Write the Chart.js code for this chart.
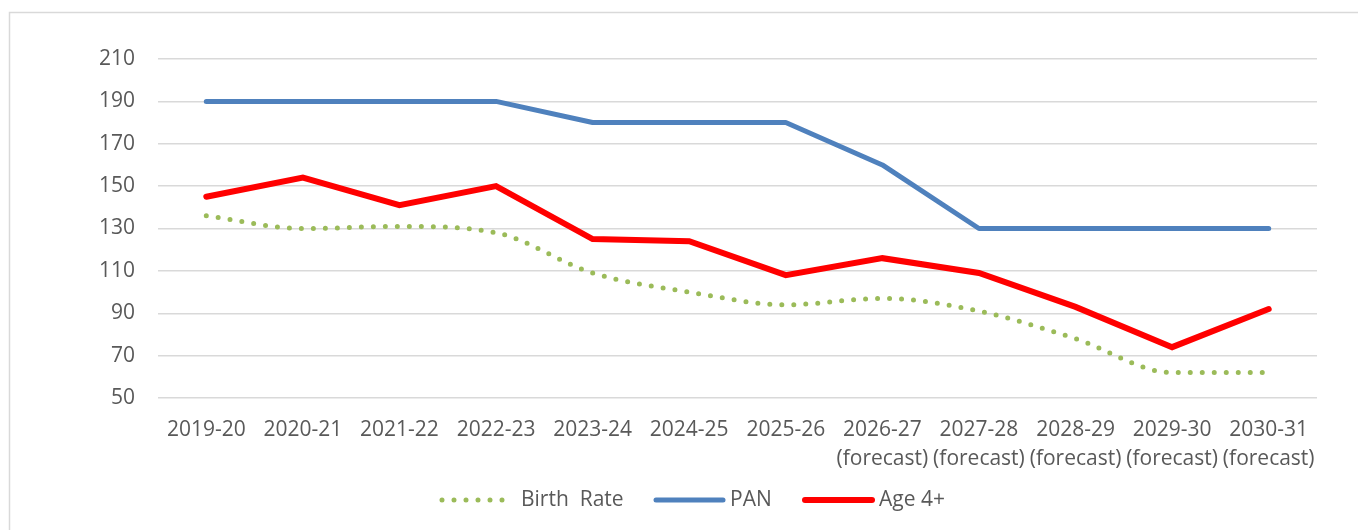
<!DOCTYPE html>
<html>
<head>
<meta charset="utf-8">
<script src="https://cdn.jsdelivr.net/npm/chart.js@4.4.1/dist/chart.umd.min.js"></script>
<style>
  html, body { margin: 0; padding: 0; background: #ffffff; }
  #wrap { width: 1358px; height: 530px; position: relative; }
</style>
</head>
<body>
<div id="wrap"><canvas id="c" width="1358" height="530"></canvas></div>
<script>
const categories = [
  ['2019-20'], ['2020-21'], ['2021-22'], ['2022-23'], ['2023-24'], ['2024-25'], ['2025-26'],
  ['2026-27', '(forecast)'], ['2027-28', '(forecast)'], ['2028-29', '(forecast)'],
  ['2029-30', '(forecast)'], ['2030-31', '(forecast)']
];
const birthRate = [136, 130, 131, 128, 109, 100, 94, 97, 91, 78, 62, 62];
const pan       = [190, 190, 190, 190, 180, 180, 180, 160, 130, 130, 130, 130];
const age4      = [145, 154, 141, 150, 125, 124, 108, 116, 109, 93, 74, 92];
const yTicks = { min: 50, max: 210, step: 20 };
const seriesNames = ['Birth  Rate', 'PAN', 'Age 4+'];

const FONT = "'Open Sans', 'DejaVu Sans', sans-serif";
const TEXT = '#595959';
const GRID = '#d9d9d9';

const framePlugin = {
  id: 'frame',
  beforeDraw(chart) {
    const ctx = chart.ctx;
    ctx.save();
    ctx.strokeStyle = GRID;
    ctx.lineWidth = 1.5;
    ctx.beginPath();
    ctx.moveTo(9.5, 600);
    ctx.lineTo(9.5, 12.5);
    ctx.lineTo(1400, 12.5);
    ctx.stroke();
    ctx.restore();
  }
};

const legendPlugin = {
  id: 'customLegend',
  afterDraw(chart) {
    const ctx = chart.ctx;
    const items = [
      { x: 442, tx: 521 },
      { x: 656, tx: 730 },
      { x: 805, tx: 879 }
    ];
    const y = 500;
    ctx.save();
    chart.data.datasets.forEach((ds, i) => {
      const it = items[i];
      ctx.beginPath();
      ctx.strokeStyle = ds.borderColor;
      ctx.lineWidth = ds.borderWidth;
      ctx.lineCap = 'round';
      ctx.setLineDash(ds.borderDash || []);
      ctx.moveTo(it.x, y);
      ctx.lineTo(it.x + (i === 0 ? 67 : 67), y);
      ctx.stroke();
      ctx.setLineDash([]);
      ctx.fillStyle = TEXT;
      ctx.font = '21px ' + FONT;
      ctx.textBaseline = 'middle';
      ctx.textAlign = 'left';
      ctx.fillText(ds.label, it.tx, y);
    });
    ctx.restore();
  }
};

new Chart(document.getElementById('c'), {
  type: 'line',
  data: {
    labels: categories,
    datasets: [
      {
        label: seriesNames[0], data: birthRate,
        borderColor: '#9bbb59', borderWidth: 5,
        borderDash: [0, 12], borderCapStyle: 'round',
        cubicInterpolationMode: 'monotone', pointRadius: 0, fill: false
      },
      {
        label: seriesNames[1], data: pan,
        borderColor: '#4f81bd', borderWidth: 5,
        borderCapStyle: 'round', borderJoinStyle: 'round',
        tension: 0, pointRadius: 0, fill: false
      },
      {
        label: seriesNames[2], data: age4,
        borderColor: '#ff0000', borderWidth: 6,
        borderCapStyle: 'round', borderJoinStyle: 'miter',
        tension: 0, pointRadius: 0, fill: false
      }
    ]
  },
  options: {
    responsive: false,
    animation: false,
    layout: { padding: { left: 0, right: 41, top: 59, bottom: 0 } },
    plugins: {
      legend: { display: false },
      tooltip: { enabled: false }
    },
    scales: {
      x: {
        offset: true,
        grid: { display: false, drawTicks: false, offset: true },
        border: { display: false },
        ticks: {
          color: TEXT, padding: 18, maxRotation: 0, autoSkip: false,
          font: { family: FONT, size: 21, lineHeight: 1.38 }
        },
        afterFit(scale) { scale.height = 132; }
      },
      y: {
        min: yTicks.min, max: yTicks.max,
        grid: { color: GRID, lineWidth: 1.5, drawTicks: false },
        border: { display: false },
        ticks: {
          stepSize: yTicks.step, color: TEXT, padding: 23,
          font: { family: FONT, size: 21 }
        },
        afterFit(scale) { scale.width = 158; }
      }
    }
  },
  plugins: [framePlugin, legendPlugin]
});
</script>
</body>
</html>
